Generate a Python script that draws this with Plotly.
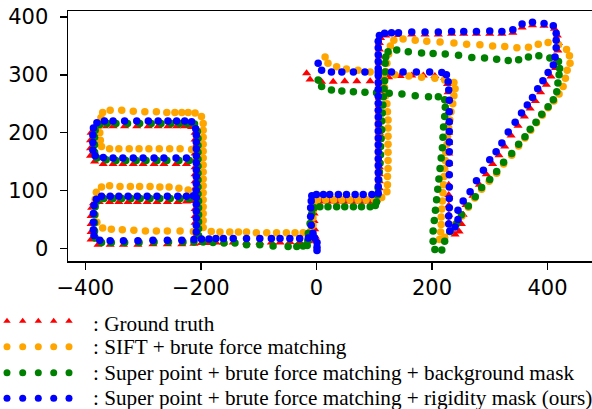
import plotly.graph_objects as go

# ---------------- data ----------------
gt_pts = [
    (-378,6),(-357,6),(-334,6),(-309,6),(-283,7),(-258,7),(-233,7),(-212,8),(-199,9),(-186,9),(-174,10),(-161,10),
    (-144,10),(-121,10),(-98,10),(-78,10),(-63,10),(-46,11),(-29,11),(-14,12),(-3,13),
    (-390,15),(-390,28),(-390,42),(-390,56),(-389,70),(-386,78),
    (-376,80),(-358,80),(-342,80),(-326,80),(-310,80),(-293,80),(-276,80),(-258,80),(-240,80),(-225,81),(-212,82),
    (-210,20),(-210,32),(-210,44),(-210,56),(-210,68),(-210,92),(-210,104),(-210,116),(-210,128),(-210,140),
    (-210,152),(-210,164),(-210,176),(-210,188),(-210,200),
    (-225,146),(-243,146),(-264,146),(-281,146),(-300,146),(-317,146),(-335,146),(-352,146),(-369,146),(-384,150),
    (-391,160),(-391,173),(-391,187),(-390,200),
    (-380,210),(-367,211),(-352,211),(-332,211),(-311,211),(-291,211),(-274,211),(-257,211),(-242,211),(-228,211),(-216,210),
    (-2,20),(-3,33),(-4,47),(-4,60),(-4,72),(0,81),
    (8,81),(22,81),(36,81),(50,81),(64,81),(78,81),(92,81),(104,83),
    (109,92),(109,104),(109,116),(109,128),(109,140),(109,152),(109,164),(109,176),(109,188),(109,200),(109,212),
    (109,224),(109,236),(109,248),(109,260),(109,272),(109,284),(109,296),(109,308),(109,320),(109,332),(109,344),
    (109,355),(111,364),
    (120,368),(142,369),(165,370),(188,370),(211,370),(234,371),(255,371),(277,371),(300,371),(321,371),(340,373),
    (356,382),(374,386),(394,385),(412,380),(417,368),(419,355),(418,342),(417,326),(414,312),
    (406,297),(398,283),(388,270),(379,255),(370,242),(360,228),(349,212),(337,195),(326,176),(316,161),(305,146),
    (294,128),(282,110),(271,91),(259,75),(254,58),(251,42),(247,29),(240,24),(233,30),
    (229,44),(229,58),(229,74),(229,92),(229,110),(229,128),(229,146),(229,164),(229,182),(229,200),(229,218),
    (229,236),(229,254),(228,270),(227,284),(222,295),
    (205,298),(185,299),(165,299),(145,298),(125,296),(93,289),(70,289),(49,289),(29,288),(9,288),(-11,292),(-17,303),
]

sift_pts = [
    (-370,235),(-357,239),(-337,239),(-317,237),(-297,236),(-277,236),(-259,235),(-245,235),(-233,235),(-222,235),
    (-210,234),(-199,228),(-196,216),
    (-196,204),(-196,192),(-196,180),(-196,168),(-196,156),(-196,144),(-196,132),(-196,120),(-196,108),(-196,96),
    (-196,84),(-196,72),(-196,60),(-196,48),(-196,36),
    (-216,171),(-236,172),(-254,172),(-272,172),(-290,172),(-307,172),(-324,172),(-342,172),(-358,172),(-372,176),
    (-374,187),(-375,200),(-375,213),(-373,226),
    (-372,106),(-358,108),(-340,107),(-322,107),(-306,107),(-288,107),(-271,106),(-255,106),(-238,104),(-222,101),(-208,100),
    (-381,97),(-383,85),(-384,72),(-383,58),(-380,45),(-370,35),
    (-355,33),(-336,32),(-316,31),(-296,30),(-277,30),(-258,30),(-236,30),(-213,29),
    (-182,29),(-167,28),(-150,28),(-135,28),(-121,28),(-104,27),(-86,27),(-69,27),(-52,27),(-37,27),(-23,27),(-10,30),
    (-6,40),(-6,53),(-5,66),(-4,77),
    (2,84),(16,84),(30,84),(44,84),(58,84),(72,84),(86,84),(100,85),(113,88),
    (122,98),(123,110),(123,124),(124,138),(124,152),(124,166),(124,180),(124,194),(124,208),(124,222),(123,236),
    (122,250),(120,264),(118,278),(118,292),(120,306),(122,320),(125,336),(128,350),(134,360),
    (150,362),(171,360),(191,358),(214,357),(238,355),(260,353),(283,352),(305,350),(326,349),(347,347),(367,348),
    (384,353),(401,356),(419,352),(433,344),(438,333),(439,320),(434,308),(431,294),(427,280),
    (420,267),(411,255),(401,243),(391,230),(381,217),(371,204),(361,191),(350,177),(338,161),(324,146),(312,130),
    (299,116),(286,102),(274,87),(263,71),(252,56),(241,42),(231,29),(222,19),(213,15),
    (215,28),(216,41),(216,54),(217,68),(218,82),(219,96),(220,110),(221,124),(222,138),(223,152),(224,166),
    (226,180),(227,194),(229,208),(231,222),(233,236),(236,250),(238,264),(240,276),(238,287),
    (222,291),(205,294),(182,296),(160,298),(136,300),(112,303),(93,305),(72,308),(52,310),(35,314),(20,320),(15,331),
]

bg_mask_pts = [
    (-372,10),(-355,10),(-332,10),(-307,10),(-281,11),(-256,11),(-231,11),(-212,11),
    (-196,11),(-179,10),(-160,9),(-141,9),(-121,6),(-98,6),(-75,4),(-49,3),(-34,3),(-23,4),(-16,5),
    (-383,18),(-384,30),(-384,44),(-384,58),(-383,72),(-379,82),
    (-368,86),(-352,86),(-337,86),(-321,86),(-305,86),(-288,86),(-271,86),(-253,86),(-236,86),(-221,86),(-210,88),
    (-204,22),(-204,34),(-204,46),(-204,58),(-204,70),(-204,82),(-205,94),(-205,106),(-205,118),(-205,130),
    (-205,142),(-205,154),(-205,166),(-205,178),(-205,190),(-206,202),
    (-220,152),(-238,152),(-259,152),(-276,152),(-295,152),(-312,152),(-330,152),(-347,152),(-364,153),(-380,156),
    (-384,166),(-384,179),(-384,192),(-383,204),
    (-375,214),(-362,216),(-347,216),(-327,216),(-306,216),(-286,216),(-269,216),(-252,216),(-237,216),(-223,216),(-211,215),
    (-15,13),(-14,26),(-11,43),(-8,60),(-4,70),
    (6,72),(20,72),(35,72),(49,72),(64,72),(78,72),(93,72),(102,74),
    (104,80),(106,92),(107,104),(108,118),(109,132),(110,147),(111,162),(111,176),(112,190),(113,205),(113,220),
    (114,234),(115,248),(116,262),(117,276),(118,290),(119,305),(119,320),(120,331),
    (124,340),(139,343),(159,340),(182,338),(202,337),(223,336),(246,334),(269,330),(291,329),(312,327),(332,325),
    (350,326),(367,331),(385,333),(404,329),(419,323),(421,311),(420,300),(418,286),(416,271),
    (410,257),(401,245),(390,232),(380,218),(370,206),(361,193),(350,180),(338,164),(324,149),(312,133),(300,119),
    (286,105),(275,89),(263,73),(251,58),(243,43),(231,29),(222,12),(217,-3),(205,-2),
    (202,12),(202,30),(204,48),(206,66),(208,84),(210,102),(212,120),(214,138),(216,156),(218,174),(219,192),
    (220,210),(222,228),(223,244),(222,257),
    (211,262),(194,262),(171,264),(148,267),(126,268),(104,269),(84,270),(64,271),(44,272),(26,274),(9,280),(3,291),
]

rigid_mask_pts = [
    (-375,14),(-357,13),(-334,13),(-309,13),(-283,14),(-258,14),(-233,14),(-212,15),(-199,16),(-186,16),(-174,17),
    (-161,17),(-144,17),(-121,17),(-98,17),(-78,17),(-63,17),(-46,17),(-29,17),(-14,18),(-3,18),(1,10),(1,2),(1,-4),
    (-385,22),(-386,32),(-386,45),(-386,60),(-385,74),(-381,85),
    (-372,90),(-357,90),(-342,90),(-326,90),(-310,90),(-293,90),(-276,90),(-258,90),(-240,90),(-225,90),(-213,91),
    (-208,28),(-208,40),(-208,52),(-208,64),(-208,76),(-208,88),(-208,100),(-208,112),(-208,124),(-208,136),
    (-208,148),(-208,160),(-208,172),(-208,184),(-208,196),(-209,207),
    (-225,156),(-243,156),(-264,156),(-281,156),(-300,156),(-317,156),(-335,156),(-352,156),(-369,157),(-383,160),
    (-387,170),(-387,183),(-387,196),(-386,208),
    (-380,217),(-367,220),(-352,220),(-332,220),(-311,220),(-291,220),(-274,220),(-257,220),(-242,220),(-228,220),(-216,219),
    (-6,26),(-9,40),(-10,55),(-10,70),(-9,82),(-8,91),
    (0,93),(12,93),(23,93),(38,93),(52,93),(67,93),(81,93),(96,93),
    (107,95),(107,107),(107,119),(107,131),(107,143),(107,155),(107,167),(107,179),(107,191),(107,203),(107,215),
    (107,227),(107,239),(107,251),(107,263),(107,275),(107,287),(107,299),(107,311),(107,323),(107,335),(107,347),
    (107,358),(109,368),
    (118,372),(130,373),(142,373),(165,374),(188,374),(211,374),(234,375),(255,375),(277,375),(300,376),(321,375),
    (340,378),(356,388),(374,391),(394,389),(410,385),(415,372),(415,360),(415,347),(413,331),(410,317),
    (401,304),(392,290),(383,276),(374,261),(365,248),(355,234),(344,218),(332,201),(321,182),(311,167),(300,153),
    (289,135),(277,117),(266,98),(254,82),(245,66),(245,50),(240,37),(231,30),(229,42),
    (229,56),(230,70),(230,86),(230,106),(230,127),(230,147),(230,167),(230,184),(230,202),(230,219),(230,236),
    (230,256),(229,274),(228,288),(225,300),
    (217,304),(196,305),(173,305),(150,305),(130,305),(107,305),(84,305),(64,305),(44,305),(26,305),(9,308),(3,320),
]

series_names = [
    "Ground truth",
    "SIFT + brute force matching",
    "Super point + brute force matching + background mask",
    "Super point + brute force matching + rigidity mask (ours)",
]
series_colors = ["#ff0000", "#ffa500", "#008000", "#0000ff"]
series_symbols = ["triangle-up", "circle", "circle", "circle"]
series_points = [gt_pts, sift_pts, bg_mask_pts, rigid_mask_pts]

x_ticks = [-400, -200, 0, 200, 400]
y_ticks = [0, 100, 200, 300, 400]

# ---------------- figure ----------------
W, H = 592, 409
fig = go.Figure()

for name, col, sym, pts in zip(series_names, series_colors, series_symbols, series_points):
    xs = [p[0] for p in pts]
    ys = [p[1] for p in pts]
    fig.add_trace(go.Scatter(
        x=xs, y=ys, mode="markers", name=name, showlegend=False,
        marker=dict(color=col, symbol=sym, size=8 if sym != "circle" else 7.5, line=dict(width=0)),
        xaxis="x", yaxis="y",
    ))

# custom legend drawn in a hidden pixel-space axis below the plot
leg_rows_px = [321, 346.7, 372.7, 398.3]
leg_marker_x = [7, 22.7, 38.3, 53.7, 69]
leg_h = 148
for name, col, sym, ry in zip(series_names, series_colors, series_symbols, leg_rows_px):
    yy = H - ry
    fig.add_trace(go.Scatter(
        x=leg_marker_x, y=[yy] * len(leg_marker_x), mode="markers", showlegend=False,
        marker=dict(color=col, symbol=sym, size=6.5 if sym != "circle" else 7, line=dict(width=0)),
        xaxis="x2", yaxis="y2", hoverinfo="skip",
    ))
    fig.add_annotation(
        x=91, y=yy - (2.5 if sym != "circle" else 0), xref="x2", yref="y2", text=": " + name, showarrow=False,
        xanchor="left", yanchor="middle",
        font=dict(family="Liberation Serif", size=21.2, color="black"),
    )

left_px, right_px, top_px, bottom_px = 68, 592, 11, 261
fig.update_layout(
    width=W, height=H,
    margin=dict(l=0, r=0, t=0, b=0, autoexpand=False),
    paper_bgcolor="white", plot_bgcolor="white",
    hovermode=False,
    xaxis=dict(
        domain=[left_px / W, right_px / W], anchor="y", automargin=False,
        range=[-430, 477], tickvals=x_ticks,
        ticktext=[("\u2212" + str(abs(v))) if v < 0 else str(v) for v in x_ticks],
        ticks="outside", ticklen=7, tickwidth=1.5, tickcolor="black",
        showline=True, linecolor="black", linewidth=1.5, mirror=True,
        showgrid=False, zeroline=False,
        tickfont=dict(family="DejaVu Sans", size=21, color="black"),
    ),
    yaxis=dict(
        domain=[(H - bottom_px) / H, (H - top_px) / H], anchor="x", automargin=False,
        range=[-22, 410.5], tickvals=y_ticks,
        ticks="outside", ticklen=7, tickwidth=1.5, tickcolor="black",
        showline=True, linecolor="black", linewidth=1.5, mirror=False,
        showgrid=False, zeroline=False,
        tickfont=dict(family="DejaVu Sans", size=21, color="black"),
        ticklabelstandoff=7,
    ),
    xaxis2=dict(domain=[0, 1], range=[0, W], visible=False, anchor="y2", fixedrange=True, automargin=False),
    yaxis2=dict(domain=[0, leg_h / H], range=[0, leg_h], visible=False, anchor="x2", fixedrange=True, automargin=False),
)

fig.write_html(
    "out.html",
    config={"displayModeBar": False, "staticPlot": True},
    post_script="document.body.style.margin='0px';document.body.style.overflow='hidden';",
)
